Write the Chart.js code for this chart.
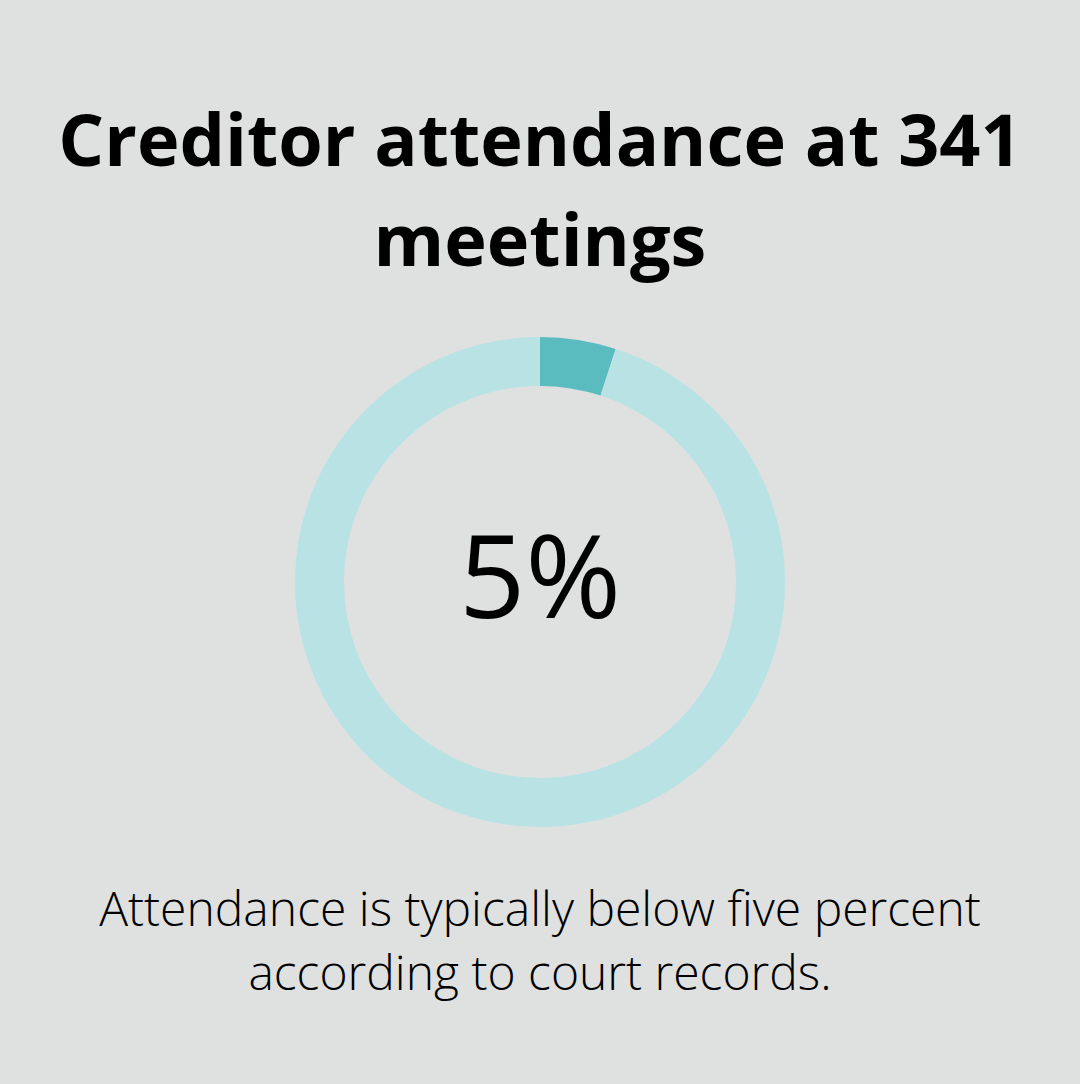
<!DOCTYPE html>
<html>
<head>
<meta charset="utf-8">
<script src="https://cdn.jsdelivr.net/npm/chart.js@4"></script>
<style>
  html, body { margin: 0; padding: 0; }
  body { width: 1080px; height: 1084px; background: #dfe1e0; position: relative; font-family: "Open Sans", sans-serif; overflow: hidden; }
  #title { position: absolute; top: 88px; left: 0; width: 1080px; text-align: center; font-weight: 700; font-size: 72px; line-height: 100px; color: #000; }
  #ring { position: absolute; left: 295px; top: 337px; width: 490px; height: 490px; }
  #center { position: absolute; left: 295px; top: 508px; width: 490px; text-align: center; font-size: 116px; font-weight: 500; line-height: 130px; color: #000; }
  #note { position: absolute; top: 876px; left: 0; width: 1080px; text-align: center; font-weight: 300; font-size: 48px; line-height: 64px; color: #000; }
</style>
</head>
<body>
<div id="title">Creditor attendance at 341<br>meetings</div>
<div id="ring"><canvas id="attendanceChart"></canvas></div>
<div id="center">5%</div>
<div id="note">Attendance is typically below five percent<br>according to court records.</div>
<script>
const labels = ['Attending', 'Not attending'];
const shares = [5, 95];

document.addEventListener('DOMContentLoaded', function drawChart() {
    const ctx = document.getElementById('attendanceChart');
    new Chart(ctx, {
        type: 'doughnut',
        data: {
            labels: labels,
            datasets: [{
                data: shares,
                backgroundColor: ['#5bbcbf', '#b9e2e4'],
                borderWidth: 0
            }]
        },
        options: {
            responsive: true,
            maintainAspectRatio: false,
            animation: false,
            cutout: '80%',
            plugins: {
                legend: { display: false },
                tooltip: { enabled: false }
            }
        }
    });
});
</script>
</body>
</html>
